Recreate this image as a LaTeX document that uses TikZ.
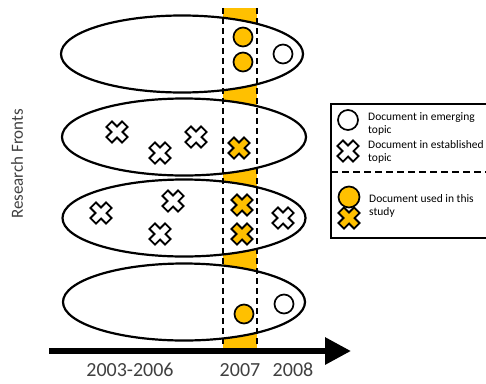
\documentclass[tikz,border=0pt]{standalone}
\usepackage{fontspec}
\setmainfont{Carlito}
\usetikzlibrary{shapes.geometric,arrows.meta}
\definecolor{gold}{HTML}{FFC000}
\definecolor{txtgray}{HTML}{404040}
\tikzset{
  front/.style={draw, ellipse, fill=white, line width=2.2pt, inner sep=0pt,
    minimum width=242pt, minimum height=77pt},
  doccirc/.style={circle, draw, fill=white, line width=1.7pt, minimum size=19pt, inner sep=0pt},
  used/.style={fill=gold},
  periodline/.style={line width=1.6pt, dash pattern=on 6pt off 4pt},
  yearlabel/.style={font=\fontsize{20}{24}\selectfont, text=txtgray, inner sep=0pt},
  legtext/.style={font=\fontsize{11.5}{13}\selectfont, align=left, anchor=west, inner sep=0pt},
  pics/xcross/.style={code={\draw[fill=#1, line width=1.8pt, line join=miter, rotate=45]
    (-3.9,-11)--(3.9,-11)--(3.9,-3.9)--(11,-3.9)--(11,3.9)--(3.9,3.9)--(3.9,11)--(-3.9,11)
    --(-3.9,3.9)--(-11,3.9)--(-11,-3.9)--(-3.9,-3.9)--cycle;}},
  pics/xcross/.default=white
}
\begin{document}
\begin{tikzpicture}[x=1pt, y=-1pt]
\useasboundingbox (0,0) rectangle (486,383);
\clip (0,0) rectangle (486,383);
% 2007 band
\fill[gold] (223,8) rectangle (257,348);
% research fronts
\node[front] (f1) at (182,54) {};
\node[front, minimum width=244pt] (f2) at (184,137) {};
\node[front, minimum width=243pt] (f3) at (184,218) {};
\node[front, minimum width=242pt] (f4) at (184,302) {};
% period boundaries
\coordinate (d1t) at (223,8); \coordinate (d1b) at (223,348);
\coordinate (d2t) at (257,8); \coordinate (d2b) at (257,348);
\draw[periodline] (d1t) -- (d1b);
\draw[periodline] (d2t) -- (d2b);
% front 1
\node[doccirc, used] (c11) at (243,37) {};
\node[doccirc, used] (c12) at (243,62) {};
\node[doccirc] (c13) at (283,54) {};
% front 2
\pic at (117,132) {xcross};
\pic at (160,153) {xcross};
\pic at (196,137) {xcross};
\pic at (239,148) {xcross=gold};
% front 3
\pic at (101,213) {xcross};
\pic at (173,201) {xcross};
\pic at (160,234) {xcross};
\pic at (242,205) {xcross=gold};
\pic at (242,234) {xcross=gold};
\pic at (283,218) {xcross};
% front 4
\node[doccirc, used] (c41) at (244,314) {};
\node[doccirc] (c42) at (284,304) {};
% time axis
\coordinate (t0) at (49,351);
\coordinate (t1) at (351,351);
\draw[line width=6pt, -{Triangle[length=26pt, width=26pt]}] (t0) -- (t1);
\node[yearlabel] (y1) at (130,370) {2003-2006};
\node[yearlabel] (y2) at (240,370) {2007};
\node[yearlabel] (y3) at (293,370) {2008};
% y label
\node[rotate=90, font=\fontsize{17}{20}\selectfont, text=txtgray] (rf) at (17,164) {Research Fronts};
% legend
\draw[line width=2.6pt, fill=white] (331,104) rectangle (492,238);
\coordinate (ls) at (331,172); \coordinate (le) at (490,172);
\draw[line width=1.8pt, dash pattern=on 7pt off 4pt] (ls) -- (le);
\node[doccirc, minimum size=20pt] (lc1) at (348,120) {};
\node[legtext] (lt1) at (368,124) {Document in emerging\\topic};
\pic at (348,151) {xcross};
\node[legtext] (lt2) at (368,152) {Document in established\\topic};
\node[doccirc, used, minimum size=21pt] (lc2) at (349,197) {};
\pic at (349,218) {xcross=gold};
\node[legtext] (lt3) at (369,206) {Document used in this\\study};
\end{tikzpicture}
\end{document}
